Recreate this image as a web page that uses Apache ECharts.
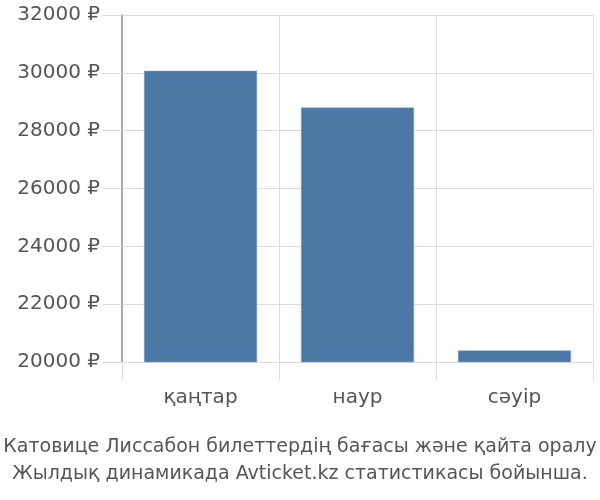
<!DOCTYPE html>
<html>
<head>
<meta charset="utf-8">
<script src="https://cdn.jsdelivr.net/npm/echarts@6/dist/echarts.min.js"></script>
<style>html,body{margin:0;padding:0;background:#fff}#c{width:600px;height:500px}</style>
</head>
<body>
<div id="c"></div>
<script>
var categories = ['қаңтар', 'наур', 'сәуір'];
var prices = [30070, 28800, 20400];
var yTicks = [20000, 22000, 24000, 26000, 28000, 30000, 32000];
var titleLines = ['Катовице Лиссабон билеттердің бағасы және қайта оралу', 'Жылдық динамикада Avticket.kz статистикасы бойынша.'];

var chart = echarts.init(document.getElementById('c'));
var font = '"DejaVu Sans", sans-serif';
chart.setOption({
  animation: false,
  title: {
    text: titleLines.join('\n'),
    left: 'center',
    top: 429,
    textStyle: { color: '#555', fontSize: 19, fontWeight: 'normal', fontFamily: font, lineHeight: 27 }
  },
  grid: { left: 122, right: 7, top: 15, bottom: 138, containLabel: false },
  xAxis: {
    type: 'category',
    data: categories,
    axisLine: { show: false },
    axisTick: { show: true, length: 18, lineStyle: { color: '#ddd' } },
    splitLine: { show: true, lineStyle: { color: '#ddd' } },
    axisLabel: { color: '#555', fontSize: 20, fontFamily: font, margin: 26 }
  },
  yAxis: {
    type: 'value',
    min: yTicks[0],
    max: yTicks[yTicks.length - 1],
    interval: 2000,
    axisLine: { show: true, lineStyle: { color: '#aaa', width: 2 } },
    axisTick: { show: true, length: 20, lineStyle: { color: '#ddd' } },
    splitLine: { show: true, lineStyle: { color: '#ddd' } },
    axisLabel: { color: '#555', fontSize: 20, fontFamily: font, margin: 22,
      formatter: function (v) { return v + ' ₽'; } }
  },
  series: [{
    type: 'bar',
    data: prices,
    barWidth: '72%',
    itemStyle: { color: '#4c78a6', borderColor: '#7fa0c4', borderWidth: 0.5 }
  }]
});
</script>
</body>
</html>
